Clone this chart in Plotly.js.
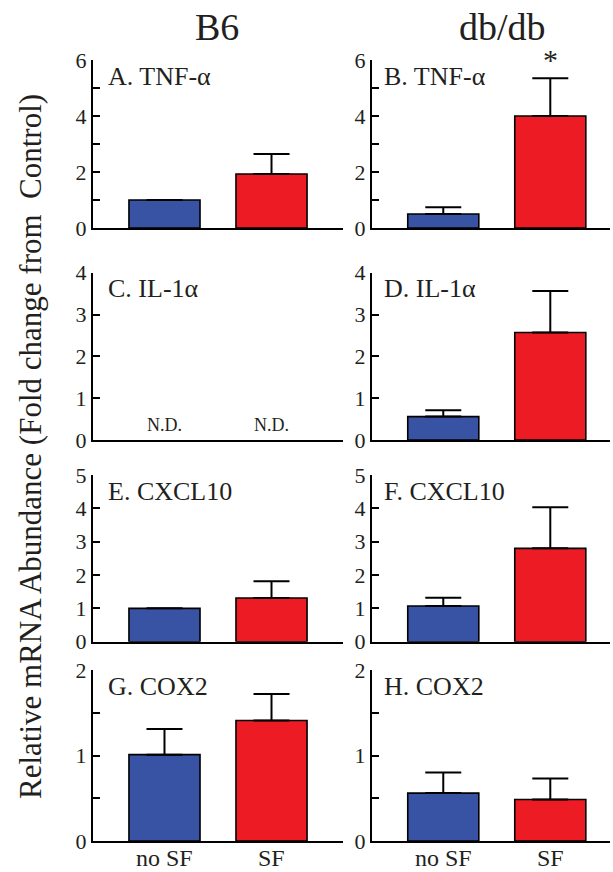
<!DOCTYPE html>
<html>
<head>
<meta charset="utf-8">
<script src="https://cdn.plot.ly/plotly-3.0.1.min.js"></script>
<style>html,body{margin:0;padding:0;background:#fff;}#chart{width:613px;height:872px;}</style>
</head>
<body>
<div id="chart"></div>
<script>
// ---- data ----
const groups = ['no SF', 'SF'];
const columnTitles = ['B6', 'db/db'];
const panelLabels = ['A. TNF-\u03b1', 'B. TNF-\u03b1', 'C. IL-1\u03b1', 'D. IL-1\u03b1',
                     'E. CXCL10', 'F. CXCL10', 'G. COX2', 'H. COX2'];
// means per panel [no SF, SF]
const tnfB6 = [1.0, 1.93];
const tnfDb = [0.5, 4.0];
const il1B6 = [null, null];      // not detected
const il1Db = [0.56, 2.57];
const cxclB6 = [1.0, 1.31];
const cxclDb = [1.07, 2.80];
const coxB6 = [1.01, 1.41];
const coxDb = [0.56, 0.485];
// upper error (SEM)
const tnfB6Err = [null, 0.71];
const tnfDbErr = [0.24, 1.35];
const il1B6Err = [null, null];
const il1DbErr = [0.15, 0.99];
const cxclB6Err = [null, 0.50];
const cxclDbErr = [0.25, 1.23];
const coxB6Err = [0.30, 0.31];
const coxDbErr = [0.24, 0.245];
const ndLabels = ['N.D.', 'N.D.'];
const yRanges = [6, 4, 5, 2];
const yDticks = [2, 1, 1, 1];
const yMinor = [1, null, null, 0.5];
const yTitle = 'Relative mRNA Abundance (Fold change from\u00a0 Control)';

const means = [tnfB6, tnfDb, il1B6, il1Db, cxclB6, cxclDb, coxB6, coxDb];
const errs = [tnfB6Err, tnfDbErr, il1B6Err, il1DbErr, cxclB6Err, cxclDbErr, coxB6Err, coxDbErr];

// ---- style ----
const W = 613, H = 872;
const FONT = 'Liberation Serif, Times New Roman, DejaVu Serif, serif';
const TXT = '#231f20';
const colors = ['#3953A4', '#ED1C24'];
const colX = [[93, 343], [372, 610]];
const xRanges = [[-0.668, 1.668], [-0.666, 1.558]];
const rowY = [[60, 228], [272.7, 440], [475, 641.7], [670, 841]];

const traces = [];
const layout = {
  width: W, height: H,
  margin: {l: 0, r: 0, t: 0, b: 0},
  paper_bgcolor: '#fff', plot_bgcolor: 'rgba(0,0,0,0)',
  showlegend: false,
  font: {family: FONT, color: TXT, size: 21},
  annotations: []
};

for (let i = 0; i < 8; i++) {
  const row = Math.floor(i / 2), col = i % 2;
  const n = i + 1;
  const xa = 'x' + (n === 1 ? '' : n), ya = 'y' + (n === 1 ? '' : n);
  traces.push({
    type: 'bar', x: groups, y: means[i], xaxis: xa, yaxis: ya,
    width: 0.664,
    marker: {color: colors, line: {color: '#000', width: 1.6}},
    error_y: {type: 'data', symmetric: false, array: errs[i], arrayminus: [0, 0],
              color: '#000', thickness: 2, width: 18},
    hoverinfo: 'none'
  });
  const xk = 'xaxis' + (n === 1 ? '' : n), yk = 'yaxis' + (n === 1 ? '' : n);
  layout[xk] = {
    domain: [colX[col][0] / W, colX[col][1] / W],
    anchor: ya, type: 'category', range: xRanges[col],
    showline: true, linecolor: '#000', linewidth: 2,
    ticks: '', showgrid: false, zeroline: false,
    showticklabels: false
  };
  const yax = {
    domain: [1 - rowY[row][1] / H, 1 - rowY[row][0] / H],
    anchor: xa, range: [0, yRanges[row]], autorange: false,
    dtick: yDticks[row], tick0: 0,
    showline: true, linecolor: '#000', linewidth: 2,
    ticks: 'inside', ticklen: 7, tickwidth: 2, tickcolor: '#000',
    showgrid: false, zeroline: false,
    tickfont: {size: 22, family: FONT, color: TXT}
  };
  if (yMinor[row]) {
    yax.minor = {dtick: yMinor[row], tick0: 0, ticks: 'inside', ticklen: 7, tickwidth: 2, tickcolor: '#000', showgrid: false};
  }
  layout[yk] = yax;
  // panel label
  layout.annotations.push({
    text: panelLabels[i], xref: 'paper', yref: 'paper',
    x: (col === 0 ? 106 : 382) / W, y: 1 - (rowY[row][0] + 16) / H,
    xanchor: 'left', yanchor: 'middle', showarrow: false,
    font: {size: 26, family: FONT, color: TXT}
  });
  // category labels under the bottom row
  if (row === 3) {
    groups.forEach((g) => {
      layout.annotations.push({
        text: g, xref: xa, yref: 'paper', x: g, y: 1 - 858 / H,
        xanchor: 'center', yanchor: 'middle', showarrow: false,
        font: {size: 24, family: FONT, color: TXT}
      });
    });
  }
}

// N.D. labels (panel C)
groups.forEach((g, k) => {
  layout.annotations.push({
    text: ndLabels[k], xref: 'x3', yref: 'y3', x: g, y: 0.36,
    xanchor: 'center', yanchor: 'middle', showarrow: false,
    font: {size: 18, family: FONT, color: TXT}
  });
});

// significance asterisk (panel B, SF)
layout.annotations.push({
  text: '*', xref: 'x2', yref: 'y2', x: groups[1], y: tnfDb[1] + tnfDbErr[1],
  xanchor: 'center', yanchor: 'bottom', showarrow: false, yshift: 0,
  font: {size: 30, family: FONT, color: TXT}
});

// column titles
columnTitles.forEach((t, c) => {
  layout.annotations.push({
    text: t, xref: 'paper', yref: 'paper',
    x: (c === 0 ? 217 : 502) / W, y: 1 - 27 / H,
    xanchor: 'center', yanchor: 'middle', showarrow: false,
    font: {size: 38, family: FONT, color: TXT}
  });
});

// shared y title
layout.annotations.push({
  text: yTitle, xref: 'paper', yref: 'paper', x: 31 / W, y: 1 - 447 / H,
  xanchor: 'center', yanchor: 'middle', textangle: -90, showarrow: false,
  font: {size: 31, family: FONT, color: TXT}
});

Plotly.newPlot('chart', traces, layout, {staticPlot: true, displayModeBar: false});
</script>
</body>
</html>
